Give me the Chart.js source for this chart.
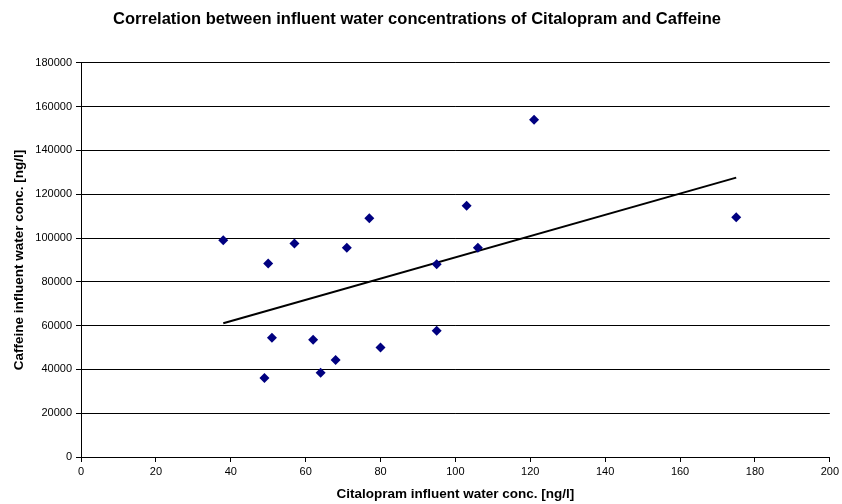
<!DOCTYPE html>
<html>
<head>
<meta charset="utf-8">
<script src="https://cdn.jsdelivr.net/npm/chart.js@4.4.1/dist/chart.umd.min.js"></script>
<style>
  html, body { margin: 0; padding: 0; background: #fff; }
  #wrap { width: 842px; height: 504px; position: relative; }
</style>
</head>
<body>
<div id="wrap"><canvas id="c" width="842" height="504"></canvas></div>
<script>
const titleText = 'Correlation between influent water concentrations of Citalopram and Caffeine';
const xAxisTitle = 'Citalopram influent water conc. [ng/l]';
const yAxisTitle = 'Caffeine influent water conc. [ng/l]';

const citalopram = [38, 49, 50, 51, 57, 62, 64, 68, 71, 77, 80, 95, 95, 103, 106, 121, 175];
const caffeine = [99000, 36100, 88300, 54400, 97500, 53500, 38500, 44300, 95500, 109000, 50000, 88000, 57700, 114700, 95600, 154000, 109500];

const xTicks = [0, 20, 40, 60, 80, 100, 120, 140, 160, 180, 200];
const yTicks = [0, 20000, 40000, 60000, 80000, 100000, 120000, 140000, 160000, 180000];

// linear least-squares trendline computed from the data
const n = citalopram.length;
const mx = citalopram.reduce((a, b) => a + b, 0) / n;
const my = caffeine.reduce((a, b) => a + b, 0) / n;
let sxy = 0, sxx = 0;
for (let i = 0; i < n; i++) {
  sxy += (citalopram[i] - mx) * (caffeine[i] - my);
  sxx += (citalopram[i] - mx) * (citalopram[i] - mx);
}
const slope = sxy / sxx;
const intercept = my - slope * mx;
const xMin = Math.min(...citalopram), xMax = Math.max(...citalopram);
const trend = [
  { x: xMin, y: intercept + slope * xMin },
  { x: xMax, y: intercept + slope * xMax }
];

const points = citalopram.map((v, i) => ({ x: v, y: caffeine[i] }));

const FONT = '"Liberation Sans", Arial, sans-serif';

new Chart(document.getElementById('c'), {
  type: 'scatter',
  data: {
    datasets: [
      {
        label: 'Caffeine',
        data: points,
        pointStyle: 'rectRot',
        radius: 5,
        hoverRadius: 5,
        backgroundColor: '#000080',
        borderColor: '#000080',
        borderWidth: 0,
        order: 1
      },
      {
        label: 'Trend',
        type: 'line',
        data: trend,
        borderColor: '#000000',
        borderWidth: 2,
        pointRadius: 0,
        fill: false,
        order: 2
      }
    ]
  },
  options: {
    responsive: false,
    animation: false,
    events: [],
    layout: { padding: { left: 0, right: 8, top: 0, bottom: 0 } },
    plugins: {
      legend: { display: false },
      tooltip: { enabled: false },
      title: {
        display: true,
        text: titleText,
        color: '#000',
        font: { family: FONT, size: 16.5, weight: 'bold' },
        padding: { top: 10, bottom: 33 }
      }
    },
    scales: {
      x: {
        type: 'linear',
        min: 0,
        max: 200,
        afterBuildTicks: (s) => { s.ticks = xTicks.map(v => ({ value: v })); },
        afterFit: (s) => { s.height = 47; },
        border: { display: true, color: '#000', width: 1 },
        grid: { display: true, drawOnChartArea: false, drawTicks: true, tickLength: 5, color: '#000' },
        ticks: { color: '#000', font: { family: FONT, size: 11 }, padding: 3, maxRotation: 0 },
        title: {
          display: true,
          text: xAxisTitle,
          color: '#000',
          font: { family: FONT, size: 13.5, weight: 'bold' },
          padding: { top: 0, bottom: 2 }
        }
      },
      y: {
        type: 'linear',
        min: 0,
        max: 180000,
        afterBuildTicks: (s) => { s.ticks = yTicks.map(v => ({ value: v })); },
        afterFit: (s) => { s.width = 81; },
        border: { display: true, color: '#000', width: 1 },
        grid: { display: true, drawOnChartArea: true, drawTicks: true, tickLength: 5, color: '#000', lineWidth: 1 },
        ticks: { color: '#000', font: { family: FONT, size: 11 }, padding: 4, callback: (v) => String(v) },
        title: {
          display: true,
          text: yAxisTitle,
          color: '#000',
          font: { family: FONT, size: 13.5, weight: 'bold' },
          padding: { top: 11, bottom: 0 }
        }
      }
    }
  }
});
</script>
</body>
</html>
